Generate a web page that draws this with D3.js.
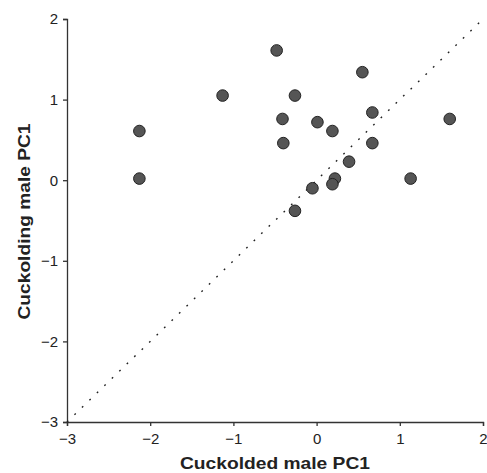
<!DOCTYPE html>
<html>
<head>
<meta charset="utf-8">
<script src="https://cdn.jsdelivr.net/npm/d3@7"></script>
<style>
  body { margin: 0; background: #fff; }
  svg { font-family: "Liberation Sans", Arial, sans-serif; }
</style>
</head>
<body>
<div id="scatter"></div>
<script>
// Data
let cuckolded = [-2.13, -2.13, -1.13, -0.48, 0.55, -0.26, -0.41, 0.01, 0.19, 0.67, 1.6, -0.40, 0.67, 0.39, 0.22, 0.19, 1.13, -0.05, -0.26];
let cuckolding = [0.61, 0.02, 1.05, 1.61, 1.34, 1.05, 0.76, 0.72, 0.61, 0.84, 0.76, 0.46, 0.46, 0.23, 0.02, -0.05, 0.02, -0.10, -0.38];
let xTicks = [-3, -2, -1, 0, 1, 2];
let yTicks = [-3, -2, -1, 0, 1, 2];

let svgWidth = 487;
let svgHeight = 473;
let margins = { top: 19, bottom: 51, left: 67, right: 4 };
let chartWidth = svgWidth - margins.left - margins.right;
let chartHeight = svgHeight - margins.top - margins.bottom;

let svg = d3.select('#scatter').append('svg')
    .attr('width', svgWidth)
    .attr('height', svgHeight);
let chart = svg.append('g')
    .attr('transform', `translate(${margins.left}, ${margins.top})`);

let xScale = d3.scaleLinear().domain([-3, 2]).range([0, chartWidth]);
let yScale = d3.scaleLinear().domain([-3, 2]).range([chartHeight, 0]);

let fmt = d => d < 0 ? '\u2212' + Math.abs(d) : String(d);

// Axes
let xAxis = chart.append('g')
    .attr('transform', `translate(0, ${chartHeight})`)
    .call(d3.axisBottom(xScale).tickValues(xTicks).tickFormat(fmt).tickSizeOuter(0).tickSize(4).tickPadding(7));
let yAxis = chart.append('g')
    .call(d3.axisLeft(yScale).tickValues(yTicks).tickFormat(fmt).tickSizeOuter(0).tickSize(4).tickPadding(5));

[xAxis, yAxis].forEach(ax => {
    ax.selectAll('path, line').attr('stroke', '#333').attr('stroke-width', 1.3);
    ax.selectAll('text').attr('fill', '#222').style('font-size', '15px')
        .style('font-family', '"Liberation Sans", Arial, sans-serif');
});

// 1:1 dotted line
chart.append('line')
    .attr('x1', xScale(-3)).attr('y1', yScale(-3))
    .attr('x2', xScale(2)).attr('y2', yScale(2))
    .attr('stroke', '#222')
    .attr('stroke-width', 1.4)
    .attr('stroke-dasharray', '1.8 8.6');

// Points
chart.selectAll('circle.point')
    .data(cuckolded.map((x, i) => ({ x: x, y: cuckolding[i] })))
    .enter().append('circle')
    .attr('class', 'point')
    .attr('cx', d => xScale(d.x))
    .attr('cy', d => yScale(d.y))
    .attr('r', 5.8)
    .attr('fill', '#555')
    .attr('stroke', '#222')
    .attr('stroke-width', 1);

// Axis labels (reference glyphs are a bit wide, so stretch them)
chart.append('text')
    .attr('x', chartWidth / 2)
    .attr('y', chartHeight + 47)
    .attr('text-anchor', 'middle')
    .attr('textLength', 190)
    .attr('lengthAdjust', 'spacingAndGlyphs')
    .style('font-size', '16.5px')
    .style('font-weight', 'bold')
    .attr('fill', '#222')
    .text('Cuckolded male PC1');
chart.append('text')
    .attr('transform', `translate(${-37.5}, ${chartHeight / 2 + 1}) rotate(-90)`)
    .attr('text-anchor', 'middle')
    .attr('textLength', 196)
    .attr('lengthAdjust', 'spacingAndGlyphs')
    .style('font-size', '16.5px')
    .style('font-weight', 'bold')
    .attr('fill', '#222')
    .text('Cuckolding male PC1');
</script>
</body>
</html>
